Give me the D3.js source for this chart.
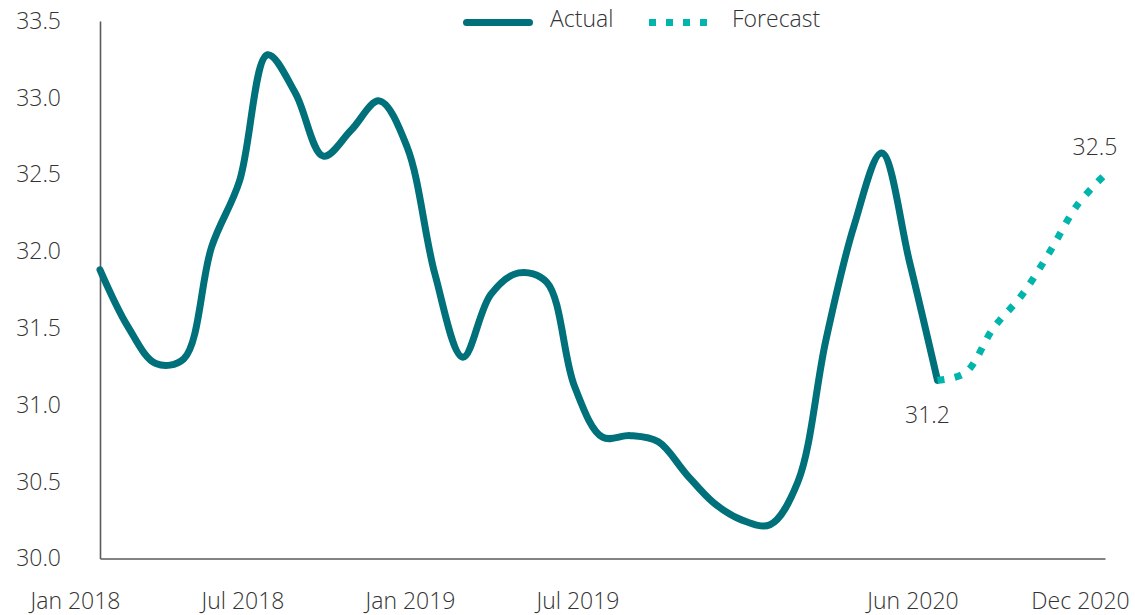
<!DOCTYPE html>
<html>
<head>
<meta charset="utf-8">
<script src="https://cdn.jsdelivr.net/npm/d3@7"></script>
<style>
  html, body { margin: 0; padding: 0; background: #fff; }
  svg text { font-family: "Open Sans", "Noto Sans", sans-serif; font-weight: 300; fill: #333; }
</style>
</head>
<body>
<svg id="chart" width="1135" height="615"></svg>
<script>
// Period index runs 0..36; actual series covers 0..30, forecast 30..36
const actualValues = [
  31.88, 31.51, 31.27, 31.30, 32.03, 32.46, 33.28, 33.03, 32.62, 32.79,
  32.98, 32.68, 31.85, 31.31, 31.72, 31.86, 31.80, 31.12, 30.79, 30.80,
  30.76, 30.55, 30.36, 30.25, 30.22, 30.50, 31.42, 32.16, 32.64, 31.93,
  31.16
];
const forecastValues = [31.16, 31.21, 31.50, 31.71, 31.99, 32.30, 32.50];
const forecastStart = 30;

const xTickIndex = [0, 6, 12, 18, 30, 36];
const xTickLabels = ["Jan 2018", "Jul 2018", "Jan 2019", "Jul 2019", "Jun 2020", "Dec 2020"];
const yTicks = [30.0, 30.5, 31.0, 31.5, 32.0, 32.5, 33.0, 33.5];
const seriesNames = ["Actual", "Forecast"];

const actualColor = "#00707a";
const forecastColor = "#00b5ab";

const svg = d3.select("#chart");

const x = d3.scaleLinear().domain([0, 36]).range([100, 1105]);
const y = d3.scaleLinear().domain([30, 33.5]).range([558.5, 21]);

// Axes
const yAxis = d3.axisLeft(y)
  .tickValues(yTicks)
  .tickSize(0)
  .tickPadding(39)
  .tickFormat(d3.format(".1f"));
const gy = svg.append("g").attr("transform", "translate(100,0)").call(yAxis);

const xAxis = d3.axisBottom(x)
  .tickValues(xTickIndex)
  .tickSize(0)
  .tickPadding(34)
  .tickFormat((d, i) => xTickLabels[i]);
const gx = svg.append("g").attr("transform", "translate(0,558.5)").call(xAxis);

[gx, gy].forEach(g => {
  g.select(".domain").attr("stroke", "#5a5a5a").attr("stroke-width", 1.6);
  g.selectAll("text").style("font-size", "23px").attr("fill", "#333");
});
gx.selectAll("text").attr("dx", -25);

// Lines
const line = d3.line()
  .x(d => x(d.i))
  .y(d => y(d.v))
  .curve(d3.curveCatmullRom.alpha(0.5));

const actualData = actualValues.map((v, i) => ({ i, v }));
const forecastData = forecastValues.map((v, k) => ({ i: forecastStart + k, v }));

svg.append("path")
  .datum(actualData)
  .attr("d", line)
  .attr("fill", "none")
  .attr("stroke", actualColor)
  .attr("stroke-width", 7)
  .attr("stroke-linecap", "round")
  .attr("stroke-linejoin", "round");

svg.append("path")
  .datum(forecastData)
  .attr("d", line)
  .attr("fill", "none")
  .attr("stroke", forecastColor)
  .attr("stroke-width", 7)
  .attr("stroke-dasharray", "7 10.5");

// Value labels at the last actual and last forecast points
const fmt = d3.format(".1f");
const lastActual = actualData[actualData.length - 1];
const lastForecast = forecastData[forecastData.length - 1];

svg.append("text")
  .attr("x", x(lastActual.i) - 10)
  .attr("y", y(lastActual.v) + 43)
  .attr("text-anchor", "middle")
  .style("font-size", "23px")
  .text(fmt(lastActual.v));

svg.append("text")
  .attr("x", x(lastForecast.i) - 10)
  .attr("y", y(lastForecast.v) - 20)
  .attr("text-anchor", "middle")
  .style("font-size", "23px")
  .text(fmt(lastForecast.v));

// Legend
const legend = svg.append("g");
legend.append("line")
  .attr("x1", 466.5).attr("x2", 529.5)
  .attr("y1", 22.5).attr("y2", 22.5)
  .attr("stroke", actualColor)
  .attr("stroke-width", 7)
  .attr("stroke-linecap", "round");
legend.append("text")
  .attr("x", 550).attr("y", 27)
  .style("font-size", "23px")
  .text(seriesNames[0]);

legend.append("line")
  .attr("x1", 649).attr("x2", 708)
  .attr("y1", 22.5).attr("y2", 22.5)
  .attr("stroke", forecastColor)
  .attr("stroke-width", 7)
  .attr("stroke-dasharray", "7 10");
legend.append("text")
  .attr("x", 732).attr("y", 27)
  .style("font-size", "23px")
  .text(seriesNames[1]);
</script>
</body>
</html>
